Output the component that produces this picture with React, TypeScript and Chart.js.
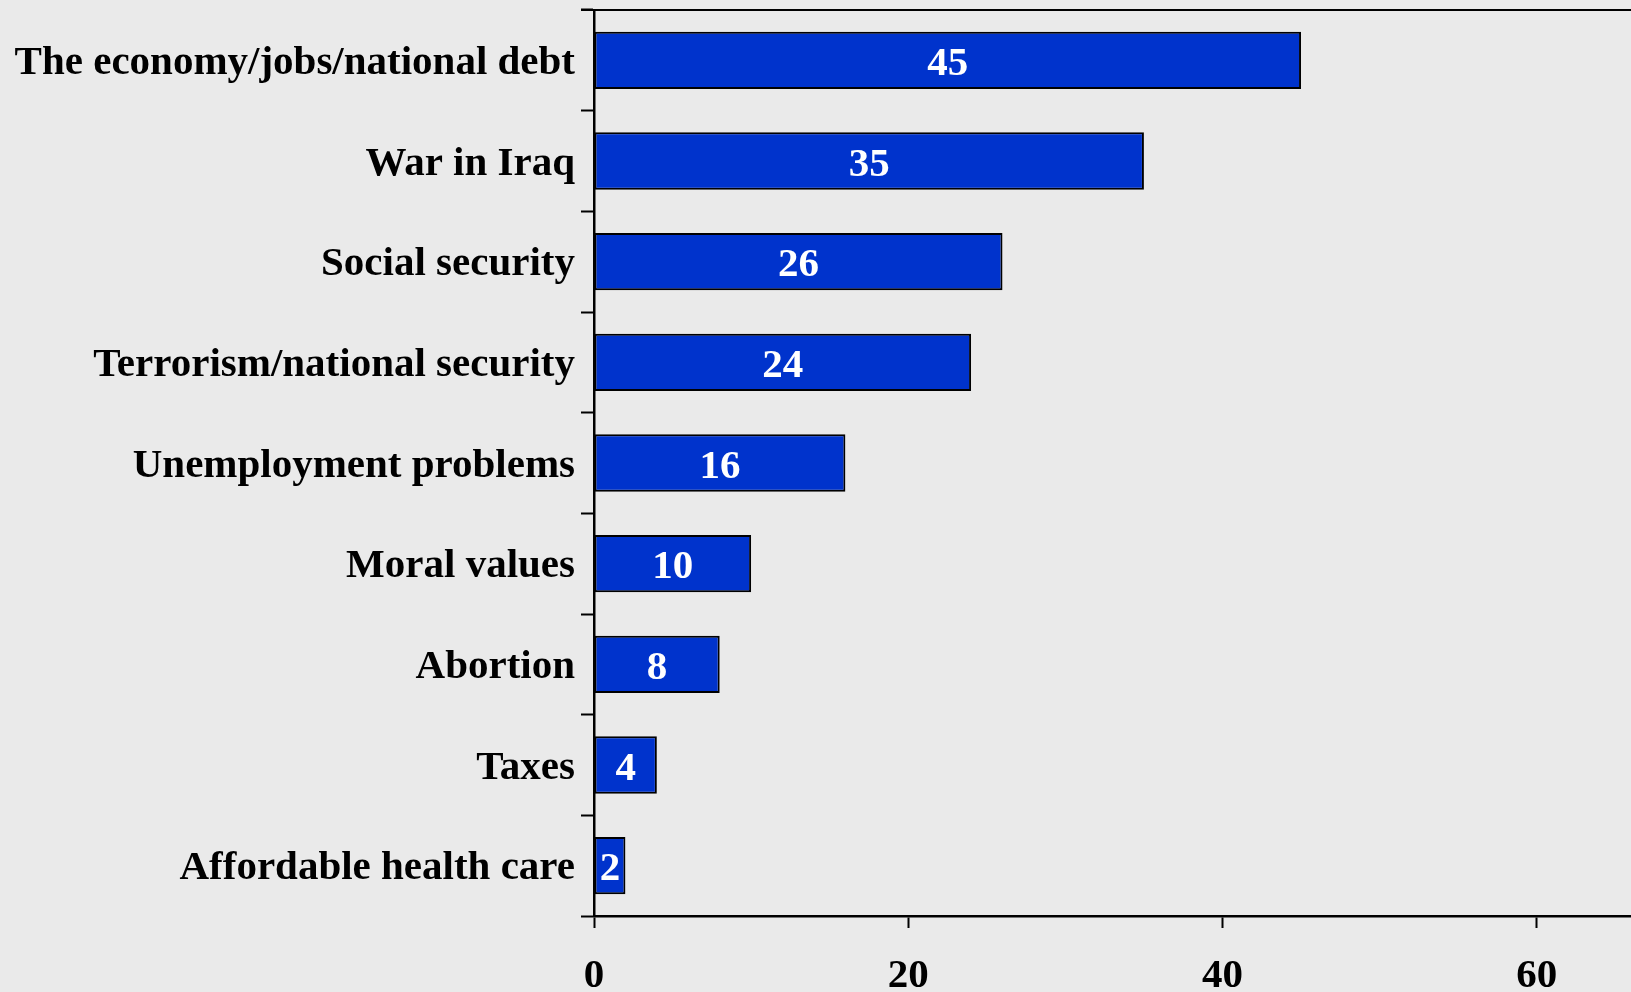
import React, { useEffect, useRef } from "react";
import { Chart, registerables } from "chart.js";

Chart.register(...registerables);

const categories = [
  "The economy/jobs/national debt",
  "War in Iraq",
  "Social security",
  "Terrorism/national security",
  "Unemployment problems",
  "Moral values",
  "Abortion",
  "Taxes",
  "Affordable health care",
];
const values = [45, 35, 26, 24, 16, 10, 8, 4, 2];
const xTicks = [0, 20, 40, 60];

const FONT = "'Liberation Serif', 'Times New Roman', serif";

const barLabels = {
  id: "barLabels",
  afterDatasetsDraw(chart: any) {
    const ctx = chart.ctx;
    const meta = chart.getDatasetMeta(0);
    ctx.save();
    ctx.fillStyle = "#ffffff";
    ctx.font = `bold 41px ${FONT}`;
    ctx.textAlign = "center";
    ctx.textBaseline = "middle";
    meta.data.forEach((el: any, i: number) => {
      const p = el.getProps(["x", "y", "base"], true);
      ctx.fillText(String(values[i]), (p.x + p.base) / 2, p.y + 4);
    });
    ctx.restore();
  },
};

const topLine = {
  id: "topLine",
  afterDraw(chart: any) {
    const { ctx, chartArea } = chart;
    ctx.save();
    ctx.strokeStyle = "#000";
    ctx.lineWidth = 2;
    ctx.beginPath();
    ctx.moveTo(chartArea.left - 13, chartArea.top);
    ctx.lineTo(chart.width, chartArea.top);
    ctx.stroke();
    ctx.restore();
  },
};

export default function App() {
  const ref = useRef<HTMLCanvasElement>(null);
  useEffect(() => {
    const chart = new Chart(ref.current!, {
      type: "bar",
      data: {
        labels: categories,
        datasets: [
          {
            data: values,
            backgroundColor: "#0033CC",
            borderColor: "#000000",
            borderWidth: 2,
            borderSkipped: false,
            barPercentage: 0.57,
            categoryPercentage: 1,
          },
        ],
      },
      options: {
        indexAxis: "y",
        animation: false,
        responsive: false,
        maintainAspectRatio: false,
        layout: { padding: { top: 10, left: 0, right: 0, bottom: 0 } },
        plugins: {
          legend: { display: false },
          tooltip: { enabled: false },
        },
        scales: {
          x: {
            type: "linear",
            min: 0,
            max: 66,
            afterFit(scale: any) {
              scale.height = 76;
              scale.paddingLeft = 0;
              scale.paddingRight = 0;
            },
            afterBuildTicks(scale: any) {
              scale.ticks = xTicks.map((v) => ({ value: v }));
            },
            ticks: {
              color: "#000",
              font: { family: FONT, size: 41, weight: "bold" },
              padding: 24,
              maxRotation: 0,
            },
            grid: {
              drawOnChartArea: false,
              tickLength: 12,
              tickWidth: 2,
              color: "#000",
            },
            border: { color: "#000", width: 2.5 },
          },
          y: {
            afterFit(scale: any) {
              scale.width = 594;
              scale.paddingTop = 0;
              scale.paddingBottom = 0;
            },
            ticks: {
              color: "#000",
              font: { family: FONT, size: 41, weight: "bold" },
              padding: 6,
              autoSkip: false,
              labelOffset: 3,
            },
            grid: {
              drawOnChartArea: false,
              offset: true,
              tickLength: 13,
              tickWidth: 2,
              color: "#000",
            },
            border: { color: "#000", width: 2.5 },
          },
        },
      },
      plugins: [barLabels, topLine],
    });
    return () => chart.destroy();
  }, []);
  return (
    <div
      style={{
        position: "fixed",
        left: 0,
        top: 0,
        width: 1631,
        height: 992,
        background: "#EAEAEA",
      }}
    >
      <canvas ref={ref} width={1631} height={992} style={{ display: "block" }} />
    </div>
  );
}
